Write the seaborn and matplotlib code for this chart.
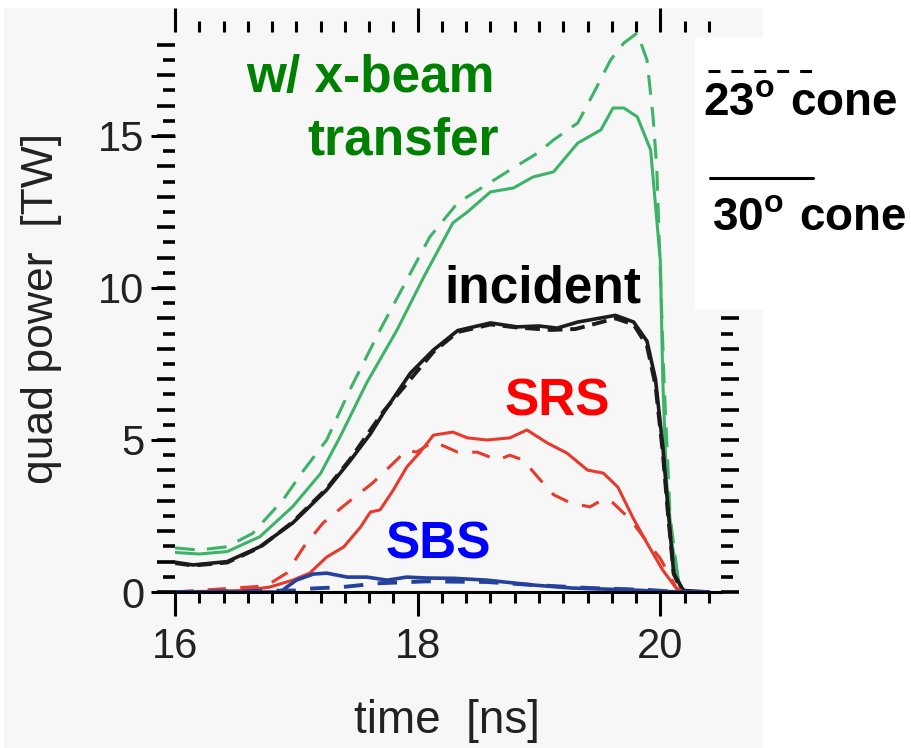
import numpy as np
import pandas as pd
import matplotlib
matplotlib.use("Agg")
import matplotlib.pyplot as plt
import seaborn as sns
from matplotlib.patches import Rectangle
from matplotlib.lines import Line2D
from matplotlib.ticker import FixedLocator, MultipleLocator, FuncFormatter, NullFormatter

# ---------------- data ----------------
green30_t = [16.0, 16.2, 16.43, 16.70, 16.97, 17.20, 17.36, 17.58, 17.83, 18.05, 18.29, 18.41,
             18.60, 18.79, 18.95, 19.12, 19.32, 19.51, 19.61, 19.70, 19.81, 19.92, 20.0, 20.02,
             20.05, 20.10, 20.16, 20.22, 20.4]
green30_p = [1.30, 1.25, 1.33, 1.82, 2.81, 3.9, 5.1, 6.88, 8.62, 10.36, 12.14, 12.5,
             13.16, 13.29, 13.65, 13.82, 14.77, 15.2, 15.92, 15.92, 15.63, 14.54, 10.9, 7.0,
             3.7, 1.5, 0.16, 0.0, 0.0]

green23_t = [16.0, 16.2, 16.43, 16.64, 16.89, 17.06, 17.25, 17.44, 17.69, 17.91, 18.10, 18.33,
             18.57, 18.76, 18.99, 19.12, 19.32, 19.45, 19.59, 19.70, 19.81, 19.89, 19.94, 19.97,
             20.03, 20.08, 20.15, 20.2, 20.4]
green23_p = [1.45, 1.38, 1.49, 1.93, 3.03, 4.0, 5.0, 6.64, 8.62, 10.26, 11.68, 12.8,
             13.4, 13.88, 14.44, 14.87, 15.43, 16.41, 17.5, 18.06, 18.39, 17.5, 15.63, 14.0,
             7.0, 2.5, 0.3, 0.0, 0.0]

inc30_t = [16.0, 16.15, 16.43, 16.70, 16.97, 17.25, 17.44, 17.61, 17.72, 17.94, 18.13, 18.33,
           18.60, 18.82, 19.0, 19.15, 19.32, 19.63, 19.78, 19.89, 19.96, 20.02, 20.06, 20.11,
           20.19, 20.4]
inc30_p = [0.98, 0.89, 1.0, 1.49, 2.27, 3.36, 4.3, 5.2, 5.9, 7.2, 7.96, 8.6,
           8.85, 8.72, 8.75, 8.68, 8.88, 9.1, 8.88, 8.25, 7.0, 4.8, 2.9, 0.62,
           0.05, 0.0]

inc23_t = [16.0, 16.15, 16.43, 16.70, 16.97, 17.25, 17.44, 17.72, 18.13, 18.33, 18.60, 18.82,
           19.1, 19.3, 19.63, 19.78, 19.89, 19.96, 20.02, 20.06, 20.11, 20.18, 20.4]
inc23_p = [0.95, 0.87, 0.97, 1.47, 2.3, 3.4, 4.35, 5.95, 7.9, 8.55, 8.8, 8.7,
           8.62, 8.65, 9.0, 8.8, 8.1, 6.8, 4.6, 2.7, 0.6, 0.0, 0.0]

srs30_t = [16.0, 16.56, 16.78, 16.97, 17.11, 17.25, 17.39, 17.53, 17.61, 17.69, 17.80, 17.91,
           18.02, 18.13, 18.29, 18.41, 18.57, 18.76, 18.90, 19.07, 19.23, 19.40, 19.53, 19.65,
           19.78, 19.89, 20.02, 20.13, 20.19, 20.4]
srs30_p = [0.0, 0.05, 0.16, 0.39, 0.62, 1.15, 1.48, 2.14, 2.63, 2.70, 3.36, 4.11,
           4.6, 5.16, 5.26, 5.07, 5.0, 5.07, 5.33, 4.9, 4.57, 4.01, 3.91, 3.45,
           2.4, 1.61, 0.72, 0.13, 0.0, 0.0]

srs23_t = [16.0, 16.75, 16.92, 17.06, 17.22, 17.42, 17.63, 17.80, 17.91, 17.99, 18.13, 18.33,
           18.49, 18.66, 18.76, 18.87, 18.99, 19.12, 19.26, 19.42, 19.53, 19.61, 19.75, 19.9,
           20.0, 20.15, 20.4]
srs23_p = [0.0, 0.2, 0.62, 1.48, 2.27, 2.93, 3.59, 4.24, 4.67, 4.6, 4.95, 4.6,
           4.6, 4.34, 4.5, 4.34, 3.78, 3.2, 2.93, 2.8, 3.05, 2.93, 2.4, 1.6,
           1.1, 0.0, 0.0]

sbs30_t = [16.0, 16.87, 16.92, 17.0, 17.14, 17.25, 17.42, 17.58, 17.75, 17.91, 18.07, 18.3,
           18.57, 18.95, 19.27, 19.74, 20.15, 20.4]
sbs30_p = [0.0, 0.0, 0.16, 0.39, 0.59, 0.62, 0.49, 0.49, 0.39, 0.49, 0.46, 0.45,
           0.39, 0.23, 0.13, 0.07, 0.0, 0.0]

sbs23_t = [16.0, 16.99, 17.05, 17.37, 17.69, 18.07, 18.57, 18.95, 19.42, 19.89, 20.15, 20.4]
sbs23_p = [0.0, 0.05, 0.1, 0.16, 0.29, 0.35, 0.33, 0.23, 0.13, 0.07, 0.0, 0.0]

x_ticks = [16, 18, 20]
y_ticks_labelled = [0, 5, 10, 15]

# ---------------- style ----------------
sns.set_theme(style="white")
plt.rcParams["font.family"] = ["Liberation Sans", "DejaVu Sans"]
plt.rcParams["mathtext.fontset"] = "custom"
plt.rcParams["mathtext.rm"] = "Liberation Sans"
plt.rcParams["mathtext.bf"] = "Liberation Sans:bold"

W, H = 911, 748
fig = plt.figure(figsize=(W / 100, H / 100), dpi=100)
fig.patch.set_facecolor("white")

def fx(px):
    return px / W

def fy(py):
    return 1 - py / H

# light grey panel behind the plot
fig.add_artist(Rectangle((fx(4), 0), fx(763) - fx(4), fy(8), transform=fig.transFigure,
                         facecolor="#f7f7f7", edgecolor="none", zorder=-10))

ax = fig.add_axes([fx(175), fy(592), fx(721) - fx(175), fy(32) - fy(592)])
ax.set_facecolor("none")

C_GREEN = "#3db368"
C_BLACK = "#1c1c1c"
C_RED = "#e8392b"
C_BLUE = "#24419b"

series = [
    (green30_t, green30_p, C_GREEN, "-", 2.2),
    (green23_t, green23_p, C_GREEN, (0, (6.5, 4.0)), 2.2),
    (inc23_t, inc23_p, C_BLACK, (0, (3.8, 2.0)), 2.8),
    (inc30_t, inc30_p, C_BLACK, "-", 2.6),
    (srs23_t, srs23_p, C_RED, (0, (6.0, 4.7)), 2.2),
    (srs30_t, srs30_p, C_RED, "-", 2.2),
    (sbs23_t, sbs23_p, C_BLUE, (0, (5.0, 3.7)), 2.8),
    (sbs30_t, sbs30_p, C_BLUE, "-", 2.6),
]
for t, p, c, ls, lw in series:
    df = pd.DataFrame({"time": t, "power": p})
    sns.lineplot(data=df, x="time", y="power", ax=ax, color=c, linestyle=ls,
                 linewidth=lw, estimator=None, sort=False)

ax.set_xlim(16, 20.5)
ax.set_ylim(0, 18.42)

for s in ["left", "top", "right"]:
    ax.spines[s].set_visible(False)
ax.spines["bottom"].set_color("black")
ax.spines["bottom"].set_linewidth(2.2)

ax.xaxis.set_major_locator(FixedLocator(x_ticks))
ax.xaxis.set_minor_locator(MultipleLocator(0.2))
ax.yaxis.set_major_locator(MultipleLocator(1))
ax.yaxis.set_minor_locator(MultipleLocator(0.5))
ax.yaxis.set_major_formatter(FuncFormatter(
    lambda v, p: f"{int(round(v))}" if int(round(v)) in y_ticks_labelled else ""))

ax.tick_params(axis="x", which="major", direction="out", length=17, width=2.2,
               bottom=True, top=True, labelsize=30, pad=8, labelcolor="#222222", color="black")
ax.tick_params(axis="x", which="minor", direction="out", length=8, width=2.2,
               bottom=True, top=True, color="black")
ax.tick_params(axis="y", which="major", direction="out", length=13, width=2.6,
               left=True, right=True, labelsize=30, pad=9, labelcolor="#222222", color="black")
ax.tick_params(axis="y", which="minor", direction="out", length=8.5, width=2.6,
               left=True, right=True, color="black")

# longer marks at the labelled y values
sec = ax.secondary_yaxis("left")
sec.spines["left"].set_visible(False)
sec.yaxis.set_major_locator(FixedLocator(y_ticks_labelled))
sec.yaxis.set_major_formatter(NullFormatter())
sec.yaxis.set_minor_locator(FixedLocator([]))
sec.tick_params(axis="y", which="major", direction="out", length=17, width=2.2, color="black")

ax.set_xlabel("time  [ns]", fontsize=33, color="#222222")
ax.xaxis.label.set_va("baseline")
ax.xaxis.set_label_coords((447 - 175) / 546, (592 - 733) / 560)
ax.set_ylabel("quad power  [TW]", fontsize=32, color="#222222")
ax.yaxis.label.set_va("center")
ax.yaxis.set_label_coords((42 - 175) / 546, (592 - 308) / 560)

# in-plot annotations
ann = dict(fontsize=37, fontweight="bold", ha="center", va="baseline")
ax.text(17.61, 16.45, "w/ x-beam", color="#008000", **ann)
ax.text(17.88, 14.38, "transfer", color="#008000", **ann)
ax.text(19.03, 9.51, "incident", color="black", **ann)
ax.text(19.15, 5.82, "SRS", color="#ff0000", **ann)
ax.text(18.17, 1.09, "SBS", color="#0000ff", **ann)

# white legend box on the right
fig.add_artist(Rectangle((fx(695), fy(310)), fx(911) - fx(695), fy(38) - fy(310),
                         transform=fig.transFigure, facecolor="white", edgecolor="none", zorder=5))
fig.add_artist(Line2D([fx(708), fx(813)], [fy(71), fy(71)], transform=fig.transFigure,
                      color="black", linewidth=2.2, linestyle=(0, (3.9, 3.6)), zorder=6))
fig.add_artist(Line2D([fx(710), fx(813)], [fy(178), fy(178)], transform=fig.transFigure,
                      color="black", linewidth=2.2, zorder=6))
fig.text(fx(703), fy(115), r"$\mathbf{23^{o}\ cone}$", fontsize=33, color="black",
         ha="left", va="baseline", zorder=7)
fig.text(fx(712), fy(230), r"$\mathbf{30^{o}\ cone}$", fontsize=33, color="black",
         ha="left", va="baseline", zorder=7)

fig.savefig("out.png", dpi=100)
